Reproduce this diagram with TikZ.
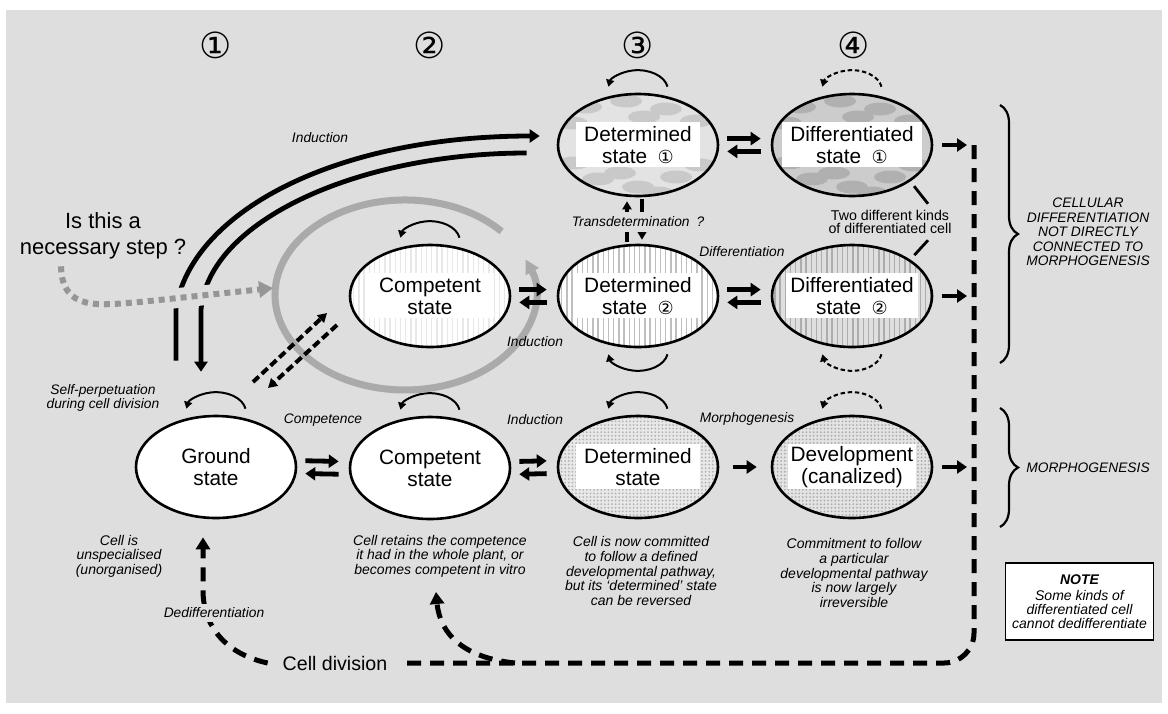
\documentclass[tikz,border=0pt]{standalone}
\usepackage{fontspec}
\setmainfont{Liberation Sans}
\newfontfamily\symfont{DejaVu Sans}
\usetikzlibrary{arrows.meta,shapes.geometric,calc,patterns.meta,decorations.pathreplacing}

\definecolor{bgcol}{RGB}{222,222,222}
\definecolor{arcgray}{RGB}{170,170,170}
\definecolor{dotgray}{RGB}{150,150,150}

\newcommand{\cnum}[1]{{\symfont\fontsize{9}{9}\selectfont #1}}
\newcommand{\twoway}[2]{%
  \draw[fat, shorten <=4pt, shorten >=5pt] ([yshift=3.2pt]#1.east) -- ([yshift=3.2pt]#2.west);
  \draw[fat, shorten <=5pt, shorten >=4pt] ([yshift=-3.2pt]#2.west) -- ([yshift=-3.2pt]#1.east);}
\newcommand{\loopup}[2][]{\draw[slim,#1] ($(#2.north)+(29.5,6)$) arc[start angle=10, end angle=170, x radius=30, y radius=20];}
\newcommand{\loopdown}[2][]{\draw[slim,#1] ($(#2.south)+(29.5,-6)$) arc[start angle=-10, end angle=-170, x radius=30, y radius=20];}

\tikzset{
  state/.style={ellipse, draw, line width=1.3pt, fill=white, minimum width=80pt, minimum height=51pt,
    inner xsep=-12pt, inner ysep=0pt, align=center, font=\fontsize{10.4}{11}\selectfont},
  blotchy/.style n args={3}{path picture={
    \fill[#1] (path picture bounding box.south west) rectangle (path picture bounding box.north east);
    \foreach \bx/\by in {-26/19,-6/22,14/18,29/12,-33/11,3/14,-20/-17,0/-21,19/-16,31/-10,-9/-14,10/-24,-32/-9}
      \fill[#2] ($(path picture bounding box.center)+(\bx pt,\by pt)$) ellipse[x radius=8pt, y radius=3.2pt];
    \fill[white] ($(path picture bounding box.center)+(-#3/2,-11pt)$) rectangle ++(#3,22.5pt);}},
  striped/.style n args={3}{path picture={
    \fill[#1] (path picture bounding box.south west) rectangle (path picture bounding box.north east);
    \fill[pattern={Lines[angle=90,distance=2.6pt,line width=0.7pt]}, pattern color=#2]
      (path picture bounding box.south west) rectangle (path picture bounding box.north east);
    \fill[white] ($(path picture bounding box.center)+(-#3/2,-11pt)$) rectangle ++(#3,22.5pt);}},
  stippled/.style n args={3}{path picture={
    \fill[#1] (path picture bounding box.south west) rectangle (path picture bounding box.north east);
    \fill[pattern={Dots[radius=0.5pt,distance=1.8pt]}, pattern color=#2]
      (path picture bounding box.south west) rectangle (path picture bounding box.north east);
    \fill[white] ($(path picture bounding box.center)+(-#3/2,-11pt)$) rectangle ++(#3,22.5pt);}},
  colnum/.style={font=\symfont\fontsize{18}{18}\selectfont},
  lbl/.style={font=\fontsize{6.9}{7.2}\selectfont\itshape, inner sep=1pt, align=center},
  desc/.style={font=\fontsize{7}{7.3}\selectfont\itshape, align=center, inner sep=0pt},
  fat/.style={line width=2.4pt, -{Triangle[length=5pt,width=6.5pt]}},
  slim/.style={line width=1pt, -{Triangle[length=3.5pt,width=4pt]}},
  slimdash/.style={dash pattern=on 2.2pt off 1.4pt},
  bigdash/.style={line width=2.5pt, dash pattern=on 7pt off 4.5pt},
  dashfat/.style={line width=2pt, dash pattern=on 4pt off 2pt, -{Triangle[length=4.5pt,width=5pt]}},
  tdarr/.style={line width=2.2pt, -{Triangle[length=4pt,width=4.5pt]}},
  grayarc/.style={draw=arcgray, line width=3.5pt, -{Triangle[length=7pt,width=7pt]}},
  graydot/.style={draw=dotgray, line width=3pt, dash pattern=on 3pt off 2.5pt, -{Triangle[length=7pt,width=8pt]}},
  brc/.style={decorate, decoration={brace, amplitude=9pt}, line width=1.1pt},
}

\begin{document}
\begin{tikzpicture}[x=0.5pt, y=0.5pt]
\useasboundingbox (0,0) rectangle (1168,-713);
\fill[white] (0,0) rectangle (1168,-713);
\fill[bgcol] (6,-10) rectangle (1162,-703);

% column numbers
\foreach \cx/\num in {216/①,430/②,638/③,854/④}
  \node[colnum] (col\cx) at (\cx,-45) {\num};

% states
\node[state] (ground) at (216,-467) {Ground\\state};
\node[state] (compb) at (430,-468) {Competent\\state};
\node[state, stippled={gray!18}{gray!60}{62pt}] (detb) at (638,-467) {Determined\\state};
\node[state, stippled={gray!22}{gray!65}{64pt}] (dev) at (852,-467) {Development\\(canalized)};
\node[state, striped={white}{gray!18}{64pt}] (compm) at (430,-296) {Competent\\state};
\node[state, striped={white}{gray!50}{62pt}] (det2) at (638,-296) {Determined\\state\enspace\cnum{②}};
\node[state, striped={gray!25}{gray!65}{66pt}] (diff2) at (852,-296) {Differentiated\\state\enspace\cnum{②}};
\node[state, blotchy={gray!22}{gray!42}{62pt}] (det1) at (638,-145) {Determined\\state\enspace\cnum{①}};
\node[state, blotchy={gray!40}{gray!62}{70pt}] (diff1) at (852,-145) {Differentiated\\state\enspace\cnum{①}};

% self loops
\loopup{ground}
\loopup{compb}
\loopup{compm}
\loopup{det1}
\loopup[slimdash]{diff1}
\loopdown{det2}
\loopdown[slimdash]{diff2}
\loopup{detb}
\loopup[slimdash]{dev}

% gray arc round the middle competent state
\draw[grayarc] ($(compm)+(71.6,64.6)$) arc[start angle=42, end angle=382, x radius=130, y radius=95];

% induction curves
\draw[fat, shorten >=8.5pt] ([xshift=-20pt,yshift=27pt]ground.north) -- ++(0,52)
  .. controls (190,-215) and (330,-136) .. ([yshift=4.5pt]det1.west);
\draw[fat, shorten <=15pt] ([yshift=-4pt]det1.west) .. controls (360,-153) and (208,-220) .. (201,-310)
  -- ([xshift=-7.5pt,yshift=21.5pt]ground.north);

% is this a necessary step
\node[font=\fontsize{11}{13}\selectfont, align=center] (quest) at (103,-236) {Is this a\\necessary step ?};
\coordinate (qin) at (273,-288);
\coordinate (qbend) at (140,-302);
\draw[bgcol, line width=10pt] ($(qbend)!0.2!(qin)$) -- ($(qbend)!0.6!(qin)$);
\draw[graydot] ([xshift=-21pt]quest.south) .. controls (62,-312) and (100,-305) .. (qbend) -- (qin);

% ground <-> competent dashed
\coordinate (dda) at (253,-382);
\coordinate (ddb) at (327,-313);
\coordinate (ddc) at (337,-325);
\coordinate (ddd) at (268,-388);
\draw[dashfat] (dda) -- (ddb);
\draw[dashfat] (ddc) -- (ddd);

% two-way arrows
\twoway{ground}{compb}
\twoway{compb}{detb}
\twoway{compm}{det2}
\twoway{det2}{diff2}
\twoway{det1}{diff1}
\draw[fat, shorten <=7pt, shorten >=7pt] (detb) -- (dev);

% transdetermination
\draw[tdarr, shorten <=1pt, shorten >=2pt] ([xshift=-5.5pt]det2.north) -- ([xshift=-5.5pt]det1.south);
\draw[tdarr, shorten <=1pt, shorten >=2pt] ([xshift=2pt]det1.south) -- ([xshift=2pt]det2.north);
\node[lbl, fill=bgcol, inner ysep=2.5pt] (transdet) at (638,-222) {Transdetermination\enspace ?};

% cell division line
\coordinate (dl1) at (974,-145);
\coordinate (dl2) at (974,-296);
\coordinate (dl3) at (974,-467);
\coordinate (dlc) at (974,-663);
\coordinate (fork) at (515,-663);
\coordinate (compin) at (436,-592);
\node[font=\fontsize{9.8}{10}\selectfont] (celldiv) at (335,-663) {Cell division};
\draw[bigdash, rounded corners=15pt] (dl1) -- (dlc) -- ([xshift=5pt]celldiv.east);
\draw[bigdash, -{Triangle[length=6pt,width=7pt]}] (fork) .. controls (465,-658) and (440,-635) .. (compin);
\draw[bigdash, -{Triangle[length=6pt,width=7pt]}] ([xshift=-4pt]celldiv.west)
  .. controls (230,-655) and (203,-630) .. (203,-590) -- ([xshift=-6.5pt,yshift=-9pt]ground.south);
\node[lbl, fill=bgcol, inner ysep=2pt] (dediff) at (214,-613) {Dedifferentiation};
\draw[fat, shorten <=4.5pt, shorten >=3.5pt] (diff1) -- (dl1);
\draw[fat, shorten <=4.5pt, shorten >=3.5pt] (diff2) -- (dl2);
\draw[fat, shorten <=4.5pt, shorten >=3.5pt] (dev) -- (dl3);

% two kinds of cell
\node[font=\fontsize{7.1}{6.6}\selectfont, align=center, inner sep=1pt] (twokinds) at (890,-222)
  {Two different kinds\\of differentiated cell};
\draw[line width=1.4pt, shorten <=3pt] (diff1.-32) -- ([xshift=19pt,yshift=2pt]twokinds.north);
\draw[line width=1.4pt, shorten >=3pt] ([xshift=19pt,yshift=-2pt]twokinds.south) -- (diff2.32);

% labels
\node[lbl] (indtop) at (320,-138) {Induction};
\node[lbl, font=\fontsize{6.9}{6.6}\selectfont\itshape] (selfp) at (103,-398) {Self-perpetuation\\during cell division};
\node[lbl] (compet) at (323,-420) {Competence};
\node[lbl] (indbot) at (535,-420) {Induction};
\node[lbl] (morph) at (747,-419) {Morphogenesis};
\node[lbl] (indmid) at (535,-342) {Induction};
\node[lbl] (diffl) at (742,-252) {Differentiation};

% descriptions
\node[desc] (desc1) at (119,-556) {Cell is\\unspecialised\\(unorganised)};
\node[desc] (desc2) at (440,-556) {Cell retains the competence\\it had in the whole plant, or\\becomes competent in vitro};
\node[desc] (desc3) at (641,-571) {Cell is now committed\\to follow a defined\\developmental pathway,\\but its `determined' state\\can be reversed};
\node[desc] (desc4) at (854,-573) {Commitment to follow\\a particular\\developmental pathway\\is now largely\\irreversible};

% braces
\draw[brc] (1000,-105) -- (1000,-363);
\draw[brc] (1000,-408) -- (1000,-527);
\node[desc, font=\fontsize{6.9}{7.3}\selectfont\itshape] (celldifflbl) at (1088,-232)
  {CELLULAR\\DIFFERENTIATION\\NOT DIRECTLY\\CONNECTED TO\\MORPHOGENESIS};
\node[desc, font=\fontsize{6.9}{7.3}\selectfont\itshape] (morphlbl) at (1088,-468) {MORPHOGENESIS};

% note
\node[draw, line width=0.8pt, fill=white, minimum width=73.5pt, minimum height=38.5pt, align=center,
  font=\fontsize{7}{6.9}\selectfont\itshape] (note) at (1079.5,-601.5)
  {{\bfseries NOTE}\\[1.5pt]Some kinds of\\differentiated cell\\cannot dedifferentiate};
\end{tikzpicture}
\end{document}
